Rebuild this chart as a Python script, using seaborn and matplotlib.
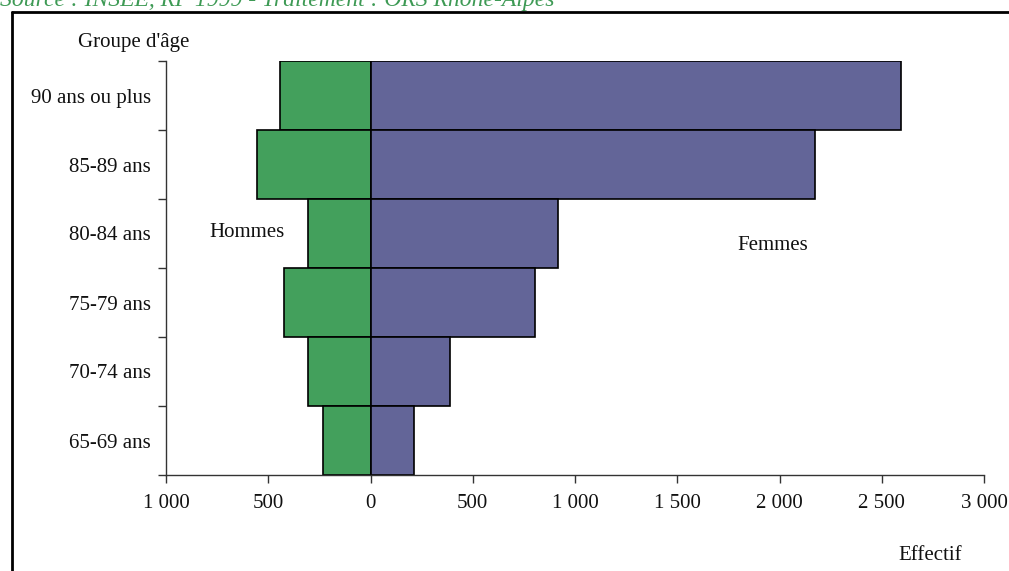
import numpy as np
import pandas as pd
import matplotlib
matplotlib.use("Agg")
import matplotlib.pyplot as plt
from matplotlib.lines import Line2D
import seaborn as sns

ages = ["90 ans ou plus", "85-89 ans", "80-84 ans", "75-79 ans", "70-74 ans", "65-69 ans"]
hommes = [441, 555, 307, 423, 304, 232]
femmes = [2593, 2172, 915, 802, 389, 213]
xticks = [-1000, -500, 0, 500, 1000, 1500, 2000, 2500, 3000]
xticklabels = ["1 000", "500", "0", "500", "1 000", "1 500", "2 000", "2 500", "3 000"]

GREEN = "#43A05C"
PURPLE = "#636598"

sns.set_theme(style="white")
plt.rcParams["font.family"] = ["Liberation Serif", "DejaVu Serif"]

df = pd.DataFrame({
    "age": ages * 2,
    "valeur": [-v for v in hommes] + femmes,
    "sexe": ["Hommes"] * len(ages) + ["Femmes"] * len(ages),
})

FS = 15

fig = plt.figure(figsize=(10.09, 5.71), dpi=100)
ax = fig.add_axes([166 / 1009, 96 / 571, (984 - 166) / 1009, (475 - 61) / 571])

sns.barplot(data=df, x="valeur", y="age", hue="sexe", order=ages,
            palette={"Hommes": GREEN, "Femmes": PURPLE}, dodge=False, saturation=1,
            width=1.0, edgecolor="black", linewidth=1.2, legend=False, ax=ax)

ax.set_xlim(-1000, 3000)
ax.set_ylim(5.5, -0.5)
ax.set_xticks(xticks)
ax.set_xticklabels(xticklabels, fontsize=FS, color="#111111")
ax.set_yticks(np.arange(-0.5, 6, 1.0))
ax.set_yticklabels([])
ax.set_yticks(np.arange(len(ages)), minor=True)
ax.set_yticklabels(ages, minor=True, fontsize=FS, color="#111111")
ax.tick_params(axis="y", which="major", length=6, width=1, color="#333333", direction="out", left=True)
ax.tick_params(axis="y", which="minor", length=0, pad=11, left=False)
ax.tick_params(axis="x", which="major", length=6, width=1, color="#333333", direction="out", pad=8, bottom=True)
ax.set_xlabel("")
ax.set_ylabel("")
for s in ["top", "right"]:
    ax.spines[s].set_visible(False)
for s in ["left", "bottom"]:
    ax.spines[s].set_color("#333333")
    ax.spines[s].set_linewidth(1.0)

fig.text(134 / 1009, 1 - 42 / 571, "Groupe d'âge", ha="center", va="center", fontsize=FS, color="#111111")
fig.text(247 / 1009, 1 - 233 / 571, "Hommes", ha="center", va="center", fontsize=FS, color="#111111")
fig.text(773 / 1009, 1 - 245 / 571, "Femmes", ha="center", va="center", fontsize=FS, color="#111111")
fig.text(930 / 1009, 1 - 555 / 571, "Effectif", ha="center", va="center", fontsize=FS, color="#111111")

fig.text(0.0, 1 - 6 / 571, "Source : INSEE, RP 1999 - Traitement : ORS Rhône-Alpes",
         ha="left", va="baseline", fontsize=17, style="italic", color="#3E9A55")

fx = 12 / 1009
fy = 1 - 12 / 571
fig.add_artist(Line2D([fx, fx], [0, fy], transform=fig.transFigure, color="black", linewidth=2))
fig.add_artist(Line2D([fx, 1.01], [fy, fy], transform=fig.transFigure, color="black", linewidth=2))

fig.savefig("out.png", dpi=100)
